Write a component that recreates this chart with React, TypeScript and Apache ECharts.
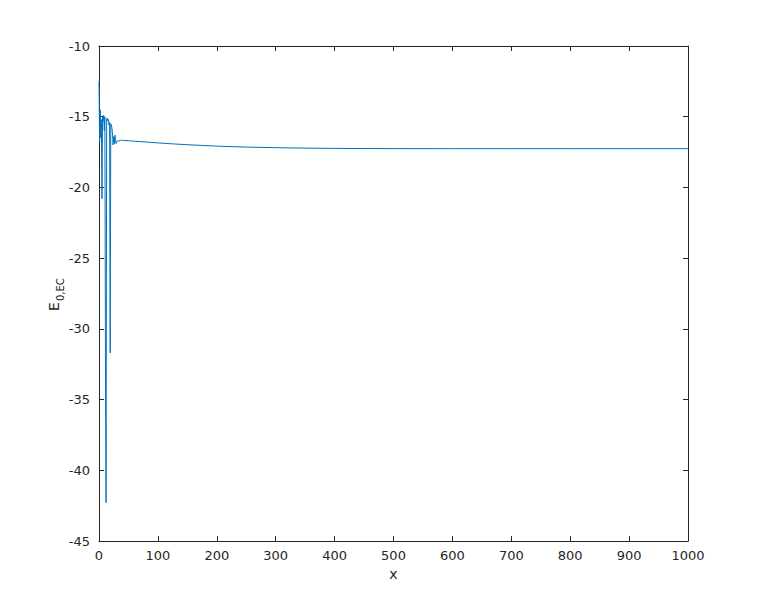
import React, { useEffect, useRef } from "react";
import * as echarts from "echarts";

const xEarly = [0, 1, 2, 3, 4, 5, 6, 7, 8, 9, 10, 11, 12, 13, 14, 15, 16, 17, 18, 19, 20, 21, 22, 23, 24, 25, 26, 27, 28, 29, 30, 31, 32, 34, 36, 38];
const yEarly = [-12.5, -16.8, -14.5, -16.5, -15.2, -20.8, -15.0, -15.3, -14.9, -16.0, -15.0, -33.0, -42.3, -15.2, -15.1, -15.3, -15.2, -15.6, -15.4, -31.7, -15.5, -15.6, -15.8, -16.3, -17.0, -16.4, -16.9, -16.3, -16.6, -16.9, -16.8, -16.7, -16.75, -16.7, -16.68, -16.66];
const xTail = [40, 50, 60, 80, 100, 125, 150, 175, 200, 250, 300, 350, 400, 450, 500, 600, 700, 800, 900, 1000];
const yTail = [-16.67, -16.7, -16.73, -16.79, -16.85, -16.92, -16.98, -17.03, -17.08, -17.15, -17.19, -17.22, -17.24, -17.25, -17.255, -17.26, -17.26, -17.26, -17.26, -17.26];

const axisColor = "#262626";
const fontFamily = "DejaVu Sans";

export default function App() {
  const ref = useRef<HTMLDivElement>(null);
  useEffect(() => {
    if (!ref.current) return;
    const chart = echarts.init(ref.current, null, { renderer: "svg" });
    const data = [
      ...xEarly.map((x, i) => [x, yEarly[i]]),
      ...xTail.map((x, i) => [x, yTail[i]]),
    ];
    const baseX = {
      type: "value",
      min: 0,
      max: 1000,
      interval: 100,
      splitLine: { show: false },
      axisLine: { show: true, onZero: false, lineStyle: { color: axisColor, width: 1 } },
      axisTick: { show: true, inside: true, length: 5, lineStyle: { color: axisColor } },
    };
    const baseY = {
      type: "value",
      min: -45,
      max: -10,
      interval: 5,
      splitLine: { show: false },
      axisLine: { show: true, onZero: false, lineStyle: { color: axisColor, width: 1 } },
      axisTick: { show: true, inside: true, length: 5, lineStyle: { color: axisColor } },
    };
    chart.setOption({
      animation: false,
      backgroundColor: "#ffffff",
      grid: { left: 91, right: 65, top: 38, bottom: 59, containLabel: false },
      xAxis: [
        {
          ...baseX,
          position: "bottom",
          axisLabel: { color: axisColor, fontSize: 13, fontFamily, margin: 8, formatter: (v: number) => String(v) },
          name: "x",
          nameLocation: "middle",
          nameGap: 26,
          nameTextStyle: { color: axisColor, fontSize: 14, fontFamily },
        },
        { ...baseX, position: "top", axisLabel: { show: false } },
      ],
      yAxis: [
        {
          ...baseY,
          position: "left",
          axisLabel: { color: axisColor, fontSize: 13, fontFamily, margin: 9 },
        },
        { ...baseY, position: "right", axisLabel: { show: false } },
      ],
      graphic: [
        {
          type: "group",
          x: 39,
          y: 303,
          rotation: Math.PI / 2,
          children: [
            {
              type: "text",
              x: 0,
              y: 0,
              style: { text: "E", fontSize: 14, fontFamily, fill: axisColor, textVerticalAlign: "top" },
            },
            {
              type: "text",
              x: 10,
              y: 8,
              style: { text: "0,EC", fontSize: 10, fontFamily, fill: axisColor, textVerticalAlign: "top" },
            },
          ],
        },
      ],
      series: [
        {
          type: "line",
          data,
          showSymbol: false,
          symbol: "none",
          lineStyle: { color: "#0072BD", width: 1 },
          xAxisIndex: 0,
          yAxisIndex: 0,
        },
      ],
    });
    return () => chart.dispose();
  }, []);
  return <div ref={ref} style={{ width: 745, height: 592 }} />;
}
